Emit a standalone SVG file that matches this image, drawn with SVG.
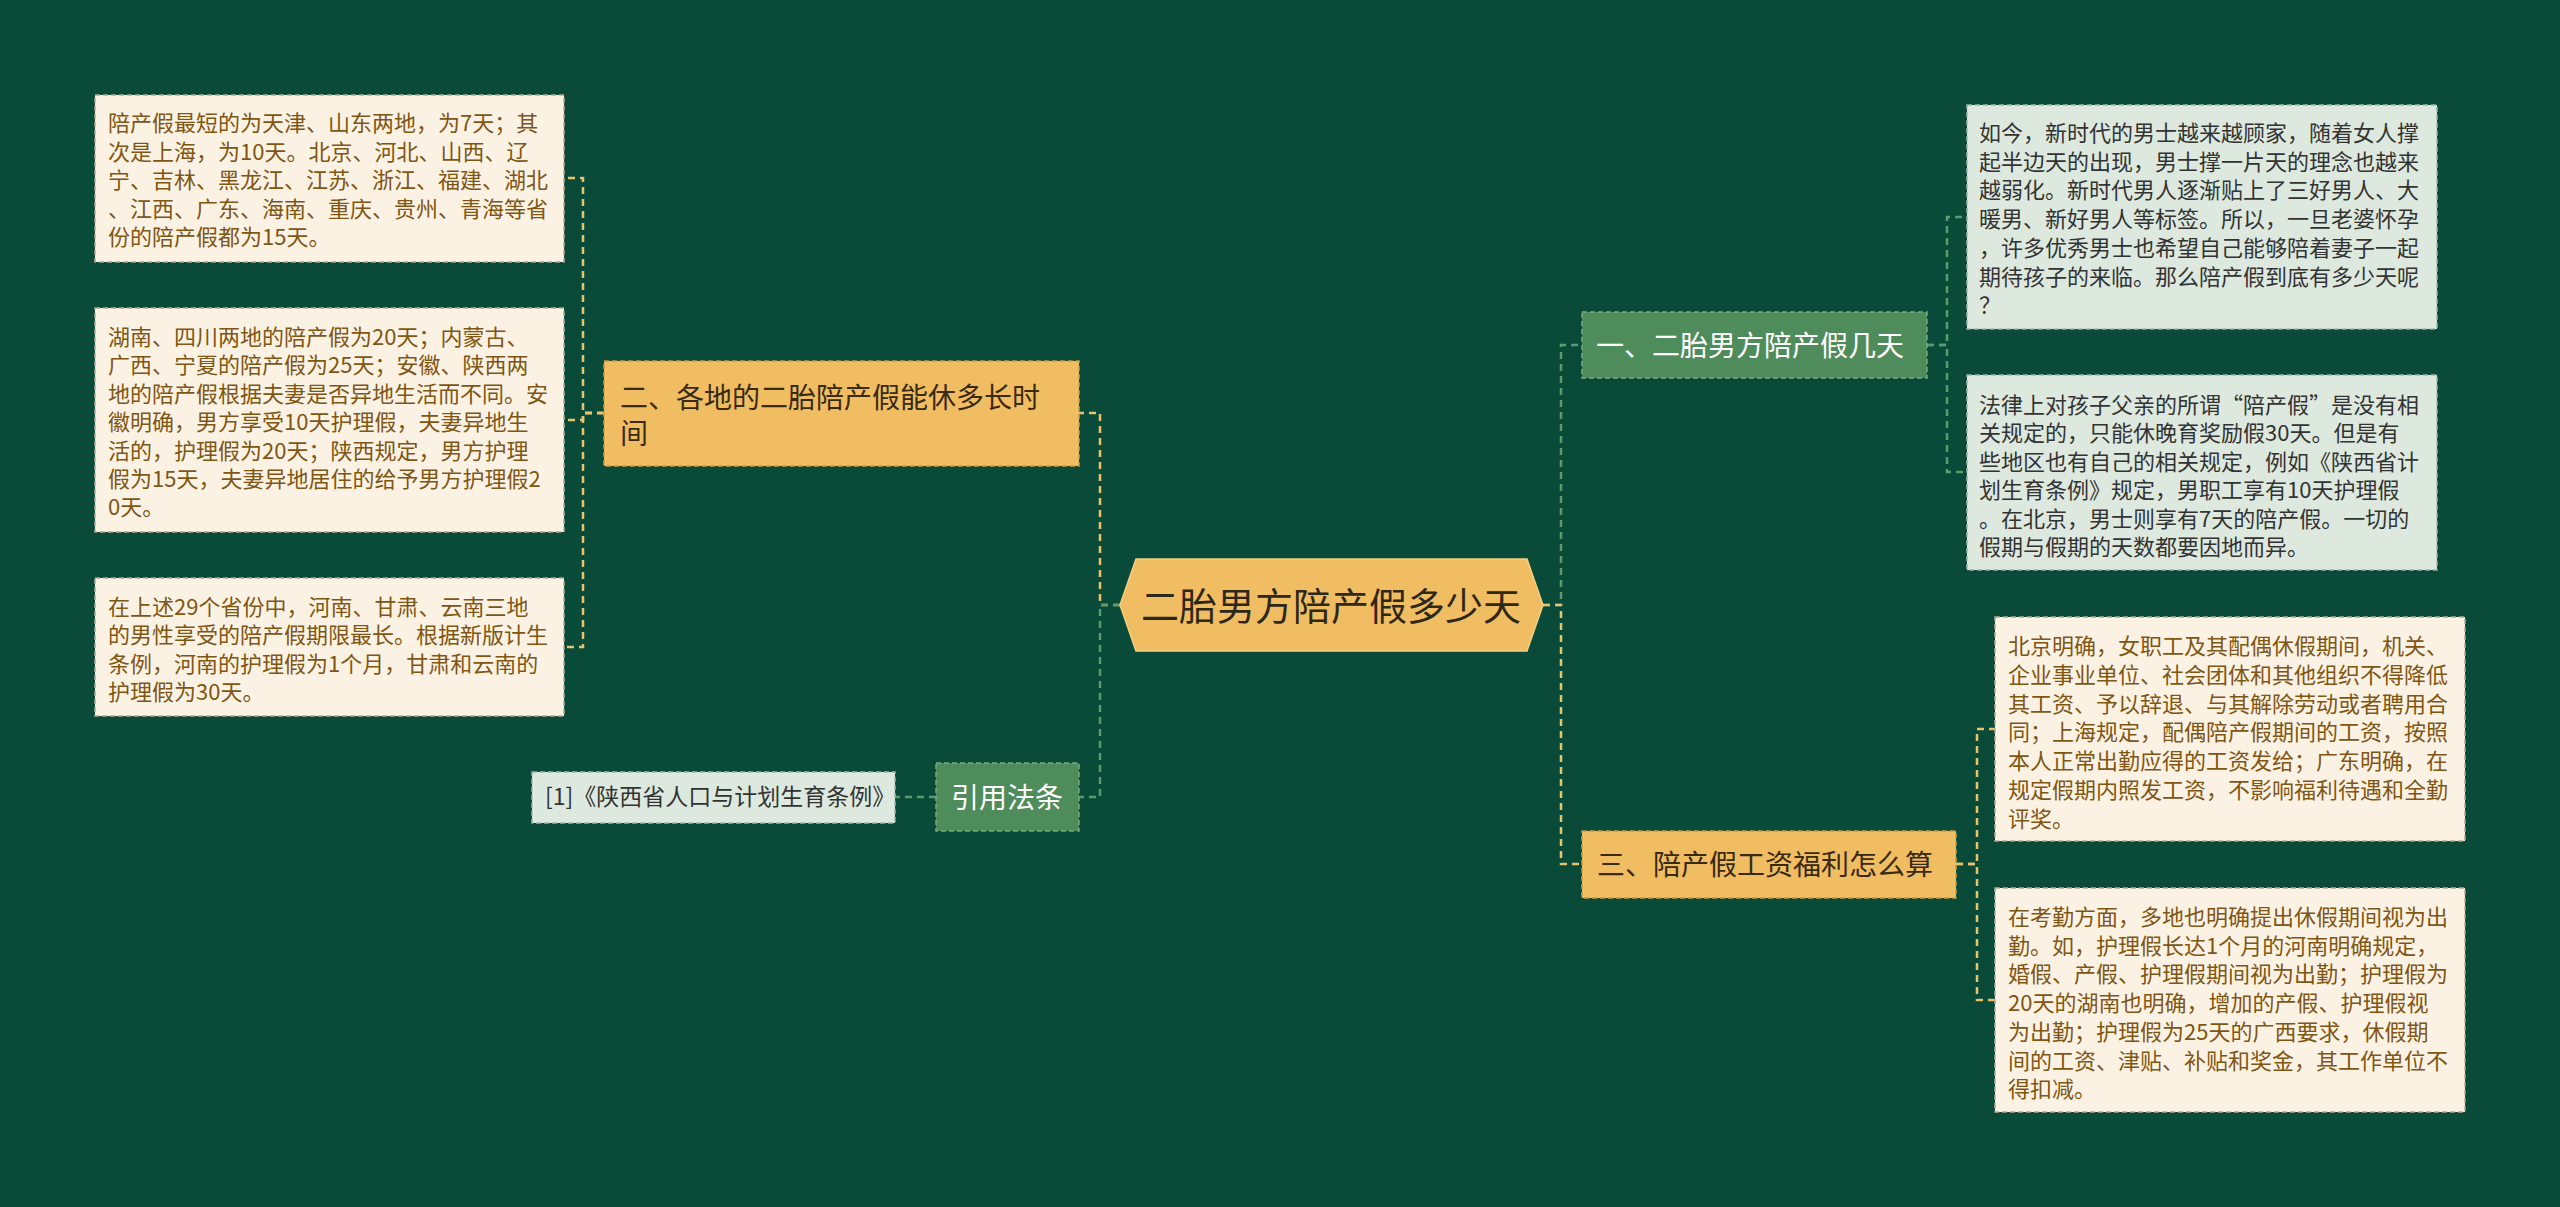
<svg xmlns="http://www.w3.org/2000/svg" width="2560" height="1207" viewBox="0 0 2560 1207">
<style>
.t{font-family:"Noto Sans CJK SC","Noto Sans",sans-serif;}
.small{font-size:22px;}
.cream rect{fill:#fcf2e3;stroke:#b7a890;stroke-width:1.5;stroke-dasharray:5 3;}
.cream text{fill:#805614;}
.mint rect{fill:#dde9df;stroke:#9fb5a5;stroke-width:1.5;stroke-dasharray:5 3;}
.mint text{fill:#333333;}
.orange rect{fill:#f0bd63;stroke:#c99a45;stroke-width:1.5;stroke-dasharray:5 3;}
.orange text{fill:#3a2a12;font-size:28px;}
.green rect{fill:#4f8c5c;stroke:#78a983;stroke-width:1.5;stroke-dasharray:5 3;}
.green text{fill:#ffffff;font-size:28px;}
.ly{fill:none;stroke:#e6c36c;stroke-width:2.5;stroke-dasharray:7 5;}
.lg{fill:none;stroke:#5d9b6c;stroke-width:2.5;stroke-dasharray:7 5;}
</style>
<rect x="0" y="0" width="2560" height="1207" fill="#0a4a39"/>
<g id="connectors">
<path class="ly" d="M1120,605 H1100 V413 H1079"/>
<path class="lg" d="M1120,605 H1100 V797 H1079"/>
<path class="ly" d="M604,413 H583 V178 H564"/>
<path class="ly" d="M604,413 H583 V420 H564"/>
<path class="ly" d="M604,413 H583 V647 H564"/>
<path class="lg" d="M936,797 H895"/>
<path class="lg" d="M1543,605 H1561 V345 H1582"/>
<path class="ly" d="M1543,605 H1561 V864 H1582"/>
<path class="lg" d="M1927,345 H1947 V217 H1967"/>
<path class="lg" d="M1927,345 H1947 V472 H1967"/>
<path class="ly" d="M1956,864 H1977 V729 H1995"/>
<path class="ly" d="M1956,864 H1977 V1000 H1995"/>
</g>
<g id="center">
<polygon points="1120,605 1136,559 1527,559 1543,605 1527,651 1136,651" fill="#f0bd63" stroke="#f3cf84" stroke-width="1.5"/>
<text class="t" x="1331" y="620" font-size="38" fill="#2e2818" text-anchor="middle">二胎男方陪产假多少天</text>
</g>
<g id="branch2" class="orange">
<rect x="604" y="361" width="475" height="105"/>
<text class="t" x="620" y="408">二、各地的二胎陪产假能休多长时</text>
<text class="t" x="620" y="444">间</text>
</g>
<g id="cite" class="green">
<rect x="936" y="763" width="143" height="68"/>
<text class="t" x="1007" y="808" text-anchor="middle">引用法条</text>
</g>
<g id="cite1" class="mint">
<rect x="532" y="772" width="363" height="51"/>
<text class="t" x="545" y="805" font-size="23">[1]《陕西省人口与计划生育条例》</text>
</g>
<g id="branch1" class="green">
<rect x="1582" y="312" width="345" height="66"/>
<text class="t" x="1596" y="356">一、二胎男方陪产假几天</text>
</g>
<g id="branch3" class="orange">
<rect x="1582" y="831" width="374" height="67"/>
<text class="t" x="1597" y="875">三、陪产假工资福利怎么算</text>
</g>
<g id="leaf-l1" class="cream">
<rect x="95" y="95" width="469" height="167"/>
<text class="t small">
<tspan x="108" y="131">陪产假最短的为天津、山东两地，为7天；其</tspan>
<tspan x="108" y="159.6">次是上海，为10天。北京、河北、山西、辽</tspan>
<tspan x="108" y="188.2">宁、吉林、黑龙江、江苏、浙江、福建、湖北</tspan>
<tspan x="108" y="216.8">、江西、广东、海南、重庆、贵州、青海等省</tspan>
<tspan x="108" y="245.4">份的陪产假都为15天。</tspan>
</text>
</g>
<g id="leaf-l2" class="cream">
<rect x="95" y="308" width="469" height="224"/>
<text class="t small">
<tspan x="108" y="345">湖南、四川两地的陪产假为20天；内蒙古、</tspan>
<tspan x="108" y="373.4">广西、宁夏的陪产假为25天；安徽、陕西两</tspan>
<tspan x="108" y="401.8">地的陪产假根据夫妻是否异地生活而不同。安</tspan>
<tspan x="108" y="430.2">徽明确，男方享受10天护理假，夫妻异地生</tspan>
<tspan x="108" y="458.6">活的，护理假为20天；陕西规定，男方护理</tspan>
<tspan x="108" y="487">假为15天，夫妻异地居住的给予男方护理假2</tspan>
<tspan x="108" y="515.4">0天。</tspan>
</text>
</g>
<g id="leaf-l3" class="cream">
<rect x="95" y="578" width="469" height="138"/>
<text class="t small">
<tspan x="108" y="615">在上述29个省份中，河南、甘肃、云南三地</tspan>
<tspan x="108" y="643.4">的男性享受的陪产假期限最长。根据新版计生</tspan>
<tspan x="108" y="671.8">条例，河南的护理假为1个月，甘肃和云南的</tspan>
<tspan x="108" y="700.2">护理假为30天。</tspan>
</text>
</g>
<g id="leaf-r1" class="mint">
<rect x="1967" y="105" width="470" height="224"/>
<text class="t small">
<tspan x="1979" y="141">如今，新时代的男士越来越顾家，随着女人撑</tspan>
<tspan x="1979" y="169.7">起半边天的出现，男士撑一片天的理念也越来</tspan>
<tspan x="1979" y="198.4">越弱化。新时代男人逐渐贴上了三好男人、大</tspan>
<tspan x="1979" y="227.1">暖男、新好男人等标签。所以，一旦老婆怀孕</tspan>
<tspan x="1979" y="255.8">，许多优秀男士也希望自己能够陪着妻子一起</tspan>
<tspan x="1979" y="284.5">期待孩子的来临。那么陪产假到底有多少天呢</tspan>
<tspan x="1979" y="313.2">？</tspan>
</text>
</g>
<g id="leaf-r2" class="mint">
<rect x="1967" y="375" width="470" height="195"/>
<text class="t small">
<tspan x="1979" y="413">法律上对孩子父亲的所谓“陪产假”是没有相</tspan>
<tspan x="1979" y="441.4">关规定的，只能休晚育奖励假30天。但是有</tspan>
<tspan x="1979" y="469.8">些地区也有自己的相关规定，例如《陕西省计</tspan>
<tspan x="1979" y="498.2">划生育条例》规定，男职工享有10天护理假</tspan>
<tspan x="1979" y="526.6">。在北京，男士则享有7天的陪产假。一切的</tspan>
<tspan x="1979" y="555">假期与假期的天数都要因地而异。</tspan>
</text>
</g>
<g id="leaf-r3" class="cream">
<rect x="1995" y="617" width="470" height="224"/>
<text class="t small">
<tspan x="2008" y="654">北京明确，女职工及其配偶休假期间，机关、</tspan>
<tspan x="2008" y="682.8">企业事业单位、社会团体和其他组织不得降低</tspan>
<tspan x="2008" y="711.6">其工资、予以辞退、与其解除劳动或者聘用合</tspan>
<tspan x="2008" y="740.4">同；上海规定，配偶陪产假期间的工资，按照</tspan>
<tspan x="2008" y="769.2">本人正常出勤应得的工资发给；广东明确，在</tspan>
<tspan x="2008" y="798">规定假期内照发工资，不影响福利待遇和全勤</tspan>
<tspan x="2008" y="826.8">评奖。</tspan>
</text>
</g>
<g id="leaf-r4" class="cream">
<rect x="1995" y="888" width="470" height="224"/>
<text class="t small">
<tspan x="2008" y="925">在考勤方面，多地也明确提出休假期间视为出</tspan>
<tspan x="2008" y="953.7">勤。如，护理假长达1个月的河南明确规定，</tspan>
<tspan x="2008" y="982.4">婚假、产假、护理假期间视为出勤；护理假为</tspan>
<tspan x="2008" y="1011.1">20天的湖南也明确，增加的产假、护理假视</tspan>
<tspan x="2008" y="1039.8">为出勤；护理假为25天的广西要求，休假期</tspan>
<tspan x="2008" y="1068.5">间的工资、津贴、补贴和奖金，其工作单位不</tspan>
<tspan x="2008" y="1097.2">得扣减。</tspan>
</text>
</g>
</svg>
